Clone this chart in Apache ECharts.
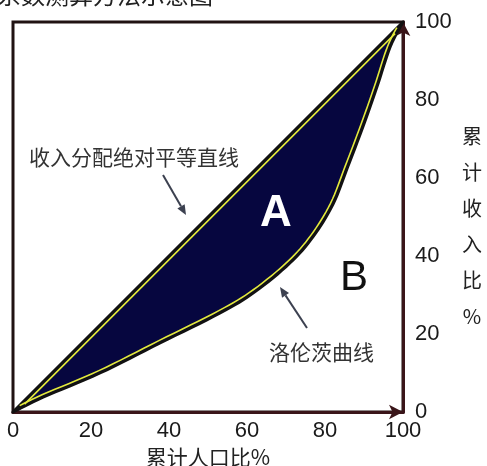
<!DOCTYPE html>
<html>
<head>
<meta charset="utf-8">
<script src="https://cdn.jsdelivr.net/npm/echarts@6/dist/echarts.min.js"></script>
<style>
html,body{margin:0;padding:0;background:#fff;}
#c{width:487px;height:466px;}
</style>
</head>
<body>
<div id="c"></div>
<script>
// ---- data ----
const xTicks = [0, 20, 40, 60, 80, 100];
const yTicks = [0, 20, 40, 60, 80, 100];
const equalityX = [0, 100];
const equalityY = [0, 100];
const lorenzX = [0, 7.7, 22.3, 37.7, 53.1, 62, 71, 76.9, 82, 85.8, 89.7, 93.3, 96.7, 100];
const lorenzY = [0, 3.8, 10, 17.7, 25.4, 30.8, 38.2, 44.9, 53.2, 62.8, 73.1, 83.3, 93.6, 100];
const titleText = '基尼系数测算方法示意图';
const xName = '累计人口比%';
const yName = '累计收入比%';

const FONT = '"Noto Sans CJK SC", "Noto Sans", sans-serif';
const NAVY = '#06063f';
const YELLOW = '#e4ea3a';
const EDGE = '#111111';

// Catmull-Rom smoothing of pixel points (rendering only)
function smoothPts(p, n) {
  const out = [p[0]];
  for (let i = 0; i < p.length - 1; i++) {
    const p0 = p[Math.max(0, i - 1)], p1 = p[i], p2 = p[i + 1], p3 = p[Math.min(p.length - 1, i + 2)];
    for (let k = 1; k <= n; k++) {
      const t = k / n, t2 = t * t, t3 = t2 * t;
      const f = (a, b, c, d) => 0.5 * ((2 * b) + (-a + c) * t + (2 * a - 5 * b + 4 * c - d) * t2 + (-a + 3 * b - 3 * c + d) * t3);
      out.push([f(p0[0], p1[0], p2[0], p3[0]), f(p0[1], p1[1], p2[1], p3[1])]);
    }
  }
  return out;
}

function offsetLine(pts, side, d) {
  const out = [];
  for (let i = 0; i < pts.length; i++) {
    const p0 = pts[Math.max(0, i - 1)], p1 = pts[Math.min(pts.length - 1, i + 1)];
    let tx = p1[0] - p0[0], ty = p1[1] - p0[1];
    const L = Math.hypot(tx, ty) || 1; tx /= L; ty /= L;
    out.push([pts[i][0] + side * ty * d, pts[i][1] - side * tx * d]);
  }
  return out;
}

function arrow(tail, head, color) {
  const dx = head[0] - tail[0], dy = head[1] - tail[1];
  const L = Math.hypot(dx, dy); const ux = dx / L, uy = dy / L;
  const bx = head[0] - ux * 10, by = head[1] - uy * 10;
  const px = -uy * 4.2, py = ux * 4.2;
  return [
    { type: 'line', shape: { x1: tail[0], y1: tail[1], x2: bx, y2: by }, style: { stroke: color, lineWidth: 2 } },
    { type: 'polygon', shape: { points: [head, [bx + px, by + py], [bx - px, by - py]] }, style: { fill: color } }
  ];
}

const chart = echarts.init(document.getElementById('c'));
chart.setOption({
  backgroundColor: '#fff',
  animation: false,
  grid: { left: 13, right: 84, top: 22, bottom: 54, show: true, borderColor: '#201212', borderWidth: 3,
    backgroundColor: 'transparent', containLabel: false, outerBoundsMode: 'none' },
  xAxis: {
    type: 'value', min: 0, max: 100, interval: 20,
    name: xName, nameLocation: 'middle', nameGap: 34,
    nameTextStyle: { fontSize: 21, color: '#222', fontFamily: FONT },
    axisLine: { show: true, onZero: false, symbol: ['none', 'arrow'], symbolSize: [11, 14], lineStyle: { color: '#3a1519', width: 3 } },
    axisTick: { show: false },
    splitLine: { show: false },
    axisLabel: { fontSize: 22, color: '#1a1a1a', fontFamily: 'Liberation Sans, sans-serif', margin: 8,
      formatter: v => xTicks.indexOf(v) >= 0 ? String(v) : '' }
  },
  yAxis: {
    type: 'value', min: 0, max: 100, interval: 20, position: 'right',
    axisLine: { show: true, onZero: false, symbol: ['none', 'arrow'], symbolSize: [11, 14], lineStyle: { color: '#3a1519', width: 3 } },
    axisTick: { show: false },
    splitLine: { show: false },
    axisLabel: { fontSize: 22, color: '#1a1a1a', fontFamily: 'Liberation Sans, sans-serif', margin: 12,
      formatter: v => yTicks.indexOf(v) >= 0 ? String(v) : '' }
  },
  series: [{
    type: 'custom',
    coordinateSystem: 'cartesian2d',
    clip: false,
    z: 1,
    data: [[0, 0]],
    renderItem: function (params, api) {
      const lzRaw = lorenzX.map((x, i) => api.coord([x, lorenzY[i]]));
      const lz = smoothPts(lzRaw, 8);
      const eq = equalityX.map((x, i) => api.coord([x, equalityY[i]]));
      const poly = lz.concat(eq.slice().reverse());
      const lzIn = offsetLine(lz, 1, 2.6).slice(3, -3);
      const eqDense = [];
      for (let k = 0; k <= 40; k++) {
        const t = k / 40;
        eqDense.push([eq[0][0] + (eq[1][0] - eq[0][0]) * t, eq[0][1] + (eq[1][1] - eq[0][1]) * t]);
      }
      const eqIn = offsetLine(eqDense, -1, 2.6).slice(1, -1);
      return {
        type: 'group',
        children: [
          { type: 'polygon', shape: { points: poly }, style: { fill: NAVY, stroke: EDGE, lineWidth: 3, lineJoin: 'round' } },
          { type: 'polyline', shape: { points: lzIn }, style: { stroke: YELLOW, lineWidth: 1.6, fill: null } },
          { type: 'polyline', shape: { points: eqIn }, style: { stroke: YELLOW, lineWidth: 1.6, fill: null } }
        ]
      };
    }
  }],
  graphic: [
    { type: 'text', left: -51, top: -17, style: { text: titleText, font: '24px ' + FONT, fill: '#222' } },
    { type: 'text', x: 29, y: 157, style: { text: '收入分配绝对平等直线', font: '21px ' + FONT, fill: '#333', verticalAlign: 'middle' } },
    { type: 'text', x: 269, y: 352, style: { text: '洛伦茨曲线', font: '21px ' + FONT, fill: '#333', verticalAlign: 'middle' } },
    { type: 'text', x: 276, y: 214, z: 10, style: { text: 'A', font: 'bold 44px "Liberation Sans", sans-serif', fill: '#fff', align: 'center', verticalAlign: 'middle' } },
    { type: 'text', x: 354, y: 278, style: { text: 'B', font: '42px "Liberation Sans", sans-serif', fill: '#111', align: 'center', verticalAlign: 'middle' } },
    { type: 'text', x: 472, y: 226, style: { text: yName.split('').join('\n'), font: '20px ' + FONT, fill: '#222', align: 'center', verticalAlign: 'middle', lineHeight: 36 } },
    { type: 'group', children: arrow([163, 175], [186, 215], '#3c4150') },
    { type: 'group', children: arrow([307, 328], [280, 287], '#3c4150') }
  ]
});
</script>
</body>
</html>
